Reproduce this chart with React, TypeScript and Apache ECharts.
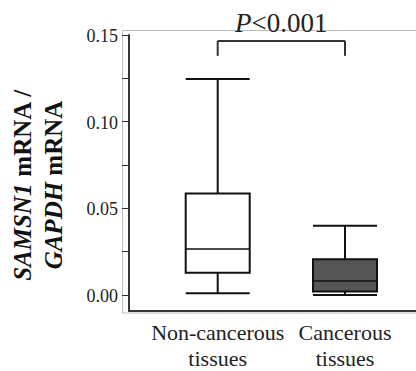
import React, { useEffect, useRef } from "react";
import * as echarts from "echarts";

const categories = ["Non-cancerous\ntissues", "Cancerous\ntissues"];
const categoryPositions = [1, 2];
const whiskerLow = [0.001, 0.0];
const quartile1 = [0.0129, 0.0021];
const medians = [0.0265, 0.0081];
const quartile3 = [0.0586, 0.0206];
const whiskerHigh = [0.1246, 0.04];
const boxFills = ["#ffffff", "#555555"];
const yLabelValues = [0, 0.05, 0.1, 0.15];
const yTickValues = [0, 0.025, 0.05, 0.075, 0.1, 0.125, 0.15];
const bracketLevels = [0.1466, 0.138];
const pValueText = "<0.001";

const FONT = "Liberation Serif";
const BOX_W = 64;
const X_MIN = 0.3032;
const X_MAX = 2.5577;
const Y_MIN = -0.0092;
const Y_MAX = 0.15;

function serifText(text: string, size: number, lineHeight: number) {
  return {
    text: text
      .split("\n")
      .map((s) => "{s|" + s + "}")
      .join("\n"),
    fontFamily: FONT,
    fontSize: size,
    fill: "#222",
    rich: {
      s: { fontFamily: FONT, fontSize: size, lineHeight, fill: "#222" },
    },
  };
}

export default function App() {
  const ref = useRef<HTMLDivElement>(null);
  useEffect(() => {
    if (!ref.current) return;
    const chart = echarts.init(ref.current, null, { renderer: "svg" });
    const boxData = categoryPositions.map((x, i) => [
      x,
      whiskerLow[i],
      quartile1[i],
      medians[i],
      quartile3[i],
      whiskerHigh[i],
      i,
    ]);
    const option: any = {
      animation: false,
      backgroundColor: "#ffffff",
      grid: { left: 129, right: 0, top: 35, bottom: 60 },
      xAxis: {
        type: "value",
        min: X_MIN,
        max: X_MAX,
        splitLine: { show: false },
        axisLine: { show: true, onZero: false, lineStyle: { color: "#333", width: 2 } },
        axisTick: { show: false },
        axisLabel: { show: false },
      },
      yAxis: {
        type: "value",
        min: Y_MIN,
        max: Y_MAX,
        splitLine: { show: false },
        axisLine: { show: true, onZero: false, lineStyle: { color: "#333", width: 2 } },
        axisTick: {
          show: true,
          customValues: yTickValues,
          length: 7,
          lineStyle: { color: "#333", width: 1 },
        },
        axisLabel: { show: false },
      },
      graphic: [
        {
          type: "rect",
          z: -1,
          shape: { x: 122.5, y: 30.5, width: 400, height: 282.5 },
          style: { fill: "none", stroke: "#bbbbbb", lineWidth: 1 },
        },
        {
          type: "text",
          x: 38,
          y: 185,
          rotation: Math.PI / 2,
          style: {
            text: "{i|SAMSN1} {b|mRNA /}\n{i|GAPDH} {b|mRNA}",
            fontFamily: FONT,
            fontWeight: "bold",
            fontSize: 25,
            fill: "#111",
            align: "center",
            verticalAlign: "middle",
            lineHeight: 31,
            rich: {
              i: { fontStyle: "italic", fontWeight: "bold", fontSize: 25, fontFamily: FONT, fill: "#111", lineHeight: 31 },
              b: { fontWeight: "bold", fontSize: 25, fontFamily: FONT, fill: "#111", lineHeight: 31 },
            },
          },
        },
      ],
      series: [
        {
          type: "custom",
          clip: false,
          data: boxData,
          encode: { x: 0, y: [1, 2, 3, 4, 5] },
          renderItem: (params: any, api: any) => {
            const x = api.value(0);
            const pLow = api.coord([x, api.value(1)]);
            const pQ1 = api.coord([x, api.value(2)]);
            const pMed = api.coord([x, api.value(3)]);
            const pQ3 = api.coord([x, api.value(4)]);
            const pHigh = api.coord([x, api.value(5)]);
            const fill = boxFills[api.value(6)];
            const cx = pMed[0];
            const l = cx - BOX_W / 2;
            const r = cx + BOX_W / 2;
            const ls = { stroke: "#111", lineWidth: 2 };
            return {
              type: "group",
              children: [
                { type: "line", shape: { x1: cx, y1: pQ3[1], x2: cx, y2: pHigh[1] }, style: ls },
                { type: "line", shape: { x1: cx, y1: pQ1[1], x2: cx, y2: pLow[1] }, style: ls },
                { type: "line", shape: { x1: l, y1: pHigh[1], x2: r, y2: pHigh[1] }, style: ls },
                { type: "line", shape: { x1: l, y1: pLow[1], x2: r, y2: pLow[1] }, style: ls },
                {
                  type: "rect",
                  shape: { x: l, y: pQ3[1], width: BOX_W, height: pQ1[1] - pQ3[1] },
                  style: { fill, stroke: "#111", lineWidth: 2 },
                },
                { type: "line", shape: { x1: l, y1: pMed[1], x2: r, y2: pMed[1] }, style: { stroke: "#111", lineWidth: 1.5 } },
              ],
            };
          },
        },
        {
          type: "custom",
          clip: false,
          data: [[categoryPositions[0], categoryPositions[1], bracketLevels[0], bracketLevels[1]]],
          encode: { x: [0, 1], y: [2, 3] },
          renderItem: (params: any, api: any) => {
            const a = api.coord([api.value(0), api.value(2)]);
            const b = api.coord([api.value(1), api.value(2)]);
            const aLow = api.coord([api.value(0), api.value(3)]);
            const ls = { stroke: "#333", lineWidth: 2 };
            return {
              type: "group",
              children: [
                { type: "line", shape: { x1: a[0], y1: a[1], x2: b[0], y2: b[1] }, style: ls },
                { type: "line", shape: { x1: a[0], y1: a[1], x2: a[0], y2: aLow[1] }, style: ls },
                { type: "line", shape: { x1: b[0], y1: b[1], x2: b[0], y2: aLow[1] }, style: ls },
                {
                  type: "text",
                  x: (a[0] + b[0]) / 2,
                  y: a[1] - 4,
                  style: {
                    text: "{i|P}{n|" + pValueText + "}",
                    fontFamily: FONT,
                    fontSize: 27,
                    fill: "#222",
                    align: "center",
                    verticalAlign: "bottom",
                    rich: {
                      i: { fontStyle: "italic", fontSize: 27, fontFamily: FONT, fill: "#222" },
                      n: { fontSize: 27, fontFamily: FONT, fill: "#222" },
                    },
                  },
                },
              ],
            };
          },
        },
        {
          // y-axis tick labels, positioned through the y scale
          type: "custom",
          clip: false,
          data: yLabelValues.map((v) => [X_MIN, v]),
          encode: { x: 0, y: 1 },
          renderItem: (params: any, api: any) => {
            const p = api.coord([api.value(0), api.value(1)]);
            return {
              type: "text",
              x: p[0] - 11,
              y: p[1] + 1,
              style: {
                ...serifText(api.value(1).toFixed(2), 18, 20),
                align: "right",
                verticalAlign: "middle",
              },
            };
          },
        },
        {
          // x-axis category labels, positioned through the x scale
          type: "custom",
          clip: false,
          data: categoryPositions.map((x, i) => [x, Y_MIN, i]),
          encode: { x: 0, y: 1 },
          renderItem: (params: any, api: any) => {
            const p = api.coord([api.value(0), api.value(1)]);
            return {
              type: "text",
              x: p[0],
              y: p[1] + 8,
              style: {
                ...serifText(categories[api.value(2)], 22, 26),
                align: "center",
                verticalAlign: "top",
              },
            };
          },
        },
      ],
    };
    chart.setOption(option);
    return () => chart.dispose();
  }, []);
  return <div ref={ref} style={{ width: 416, height: 371, position: "absolute", left: 0, top: 0 }} />;
}
